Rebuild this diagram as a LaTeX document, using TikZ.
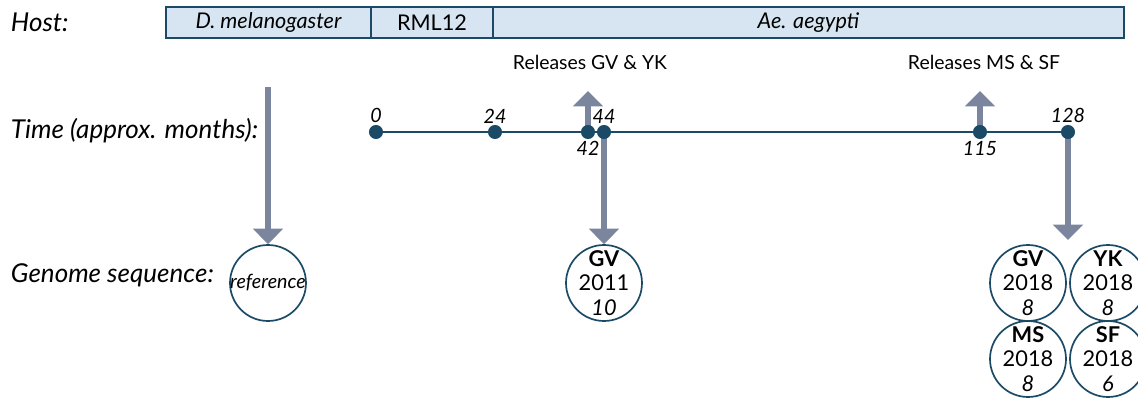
\documentclass[tikz,border=0pt]{standalone}
\usepackage{fontspec}
\setmainfont{Lato}
\usetikzlibrary{arrows.meta,backgrounds}
\definecolor{linecol}{HTML}{1B4A66}
\definecolor{barfill}{HTML}{D6E5F1}
\definecolor{arrowcol}{HTML}{7B869E}
\begin{document}
\begin{tikzpicture}[
    row_label/.style={anchor=west,font=\fontsize{18.5}{20}\selectfont\itshape},
    host_box/.style={draw=linecol,fill=barfill,line width=1.2pt,minimum height=0.775cm,inner sep=0pt,font=\fontsize{15.4}{17}\selectfont},
    time_dot/.style={circle,fill=linecol,inner sep=0pt,minimum size=10pt},
    month/.style={font=\fontsize{14}{15}\selectfont\itshape,inner sep=1pt},
    seq_node/.style={circle,draw=linecol,line width=1.2pt,minimum size=1.9cm,inner sep=0pt},
    seq_text/.style={align=center,inner sep=0pt,font=\fontsize{15.5}{17.5}\selectfont},
    big_arrow/.style={draw=arrowcol,line width=4.3pt,-{Triangle[width=21pt,length=11pt]}}]
    \useasboundingbox (0,0) rectangle (28.45,9.95);
    % row labels
    \node[row_label] (host) at (0.15, 9.4) {Host:};
    \node[row_label] (time) at (0.15, 6.675) {Time (approx. months):};
    \node[row_label] (genome) at (0.15, 3.075) {Genome sequence:};
    % host bar
    \node[host_box,minimum width=5.125cm] (dmel) at (6.7125, 9.3875) {\itshape D. melanogaster};
    \node[host_box,minimum width=3.05cm] (rml) at (10.8, 9.3875) {RML12};
    \node[host_box,minimum width=15.775cm] (aae) at (20.2125, 9.3875) {\itshape Ae. aegypti};
    % timeline
    \node[time_dot,label={[month]above:0}] (0) at (9.4, 6.65) {};
    \node[time_dot,label={[month]above:24}] (24) at (12.375, 6.65) {};
    \node[time_dot,label={[month]below:42}] (42) at (14.7, 6.65) {};
    \node[time_dot,label={[month]above:44}] (44) at (15.1, 6.65) {};
    \node[time_dot,label={[month]below:115}] (115) at (24.5, 6.65) {};
    \node[time_dot,label={[month]above:128}] (128) at (26.7, 6.65) {};
    \draw[linecol,line width=1.5pt] (0) -- (24) -- (42) -- (44) -- (115) -- (128);
    % releases
    \node[font=\fontsize{13.8}{15}\selectfont] (rel1) at (14.75, 8.4) {Releases GV \& YK};
    \node[font=\fontsize{13.8}{15}\selectfont] (rel2) at (24.6, 8.4) {Releases MS \& SF};
    % genome sequences
    \node[seq_node,label={[seq_text,font=\fontsize{14}{16}\selectfont\itshape]center:reference}] (ref) at (6.7, 2.875) {};
    \node[seq_node,label={[seq_text]center:{\textbf{GV}\\2011\\\itshape 10}}] (gv1) at (15.1, 2.875) {};
    \node[seq_node,label={[seq_text]center:{\textbf{GV}\\2018\\\itshape 8}}] (gv2) at (25.7, 2.875) {};
    \node[seq_node,label={[seq_text]center:{\textbf{YK}\\2018\\\itshape 8}}] (yk) at (27.7, 2.875) {};
    \node[seq_node,label={[seq_text]center:{\textbf{MS}\\2018\\\itshape 8}}] (ms) at (25.7, 0.975) {};
    \node[seq_node,label={[seq_text]center:{\textbf{SF}\\2018\\\itshape 6}}] (sf) at (27.7, 0.975) {};
    \coordinate (ref_top) at (6.7, 7.775);
    \coordinate (gv_tip) at (26.7, 3.95);
    % arrows
    \begin{scope}[on background layer]
    \draw[big_arrow] (ref_top) -- (ref.north);
    \draw[big_arrow] (44.center) -- (gv1.north);
    \draw[big_arrow] (128.center) -- (gv_tip);
    \draw[big_arrow,shorten >=0.42cm] (42.center) -- (rel1.south -| 42);
    \draw[big_arrow,shorten >=0.42cm] (115.center) -- (rel2.south -| 115);
    \end{scope}
\end{tikzpicture}
\end{document}
